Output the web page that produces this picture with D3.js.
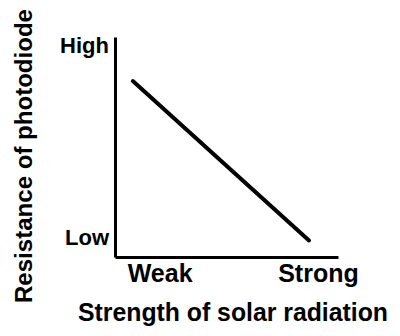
<!DOCTYPE html>
<html>
<head>
<meta charset="utf-8">
<script src="https://cdn.jsdelivr.net/npm/d3@7"></script>
<style>
  body { margin: 0; background: #fff; }
  svg text { font-family: "Liberation Sans", Arial, sans-serif; font-weight: bold; fill: #000; }
</style>
</head>
<body>
<div id="chart"></div>
<script>
// category labels on each axis and where they sit (0-10 units)
var strengthLabels = ["Weak", "Strong"];
var strengthTicks = [2.0, 9.1];
var resistanceLabels = ["Low", "High"];
var resistanceTicks = [0.9, 9.6];

// the single falling line: resistance against radiation strength
var curveStrength = [0.8, 8.7];
var curveResistance = [8.0, 0.75];

var width = 400, height = 336;
var margin = {top: 37, right: 62, bottom: 79, left: 115};

var svg = d3.select("#chart").append("svg")
  .attr("width", width)
  .attr("height", height);

var x = d3.scaleLinear()
  .domain([0, 10])
  .range([margin.left, width - margin.right]);

var y = d3.scaleLinear()
  .domain([0, 10])
  .range([height - margin.bottom, margin.top]);

// x axis
var xAxis = svg.append("g")
  .attr("transform", "translate(0," + y(0) + ")")
  .call(d3.axisBottom(x)
    .tickValues(strengthTicks)
    .tickFormat(function(d, i) { return strengthLabels[i]; })
    .tickSize(0)
    .tickSizeOuter(0)
    .tickPadding(7));
xAxis.select(".domain").attr("stroke", "#000").attr("stroke-width", 3);
xAxis.selectAll("text").attr("font-size", 25).style("font-family", null);

// y axis
var yAxis = svg.append("g")
  .attr("transform", "translate(" + x(0) + ",0)")
  .call(d3.axisLeft(y)
    .tickValues(resistanceTicks)
    .tickFormat(function(d, i) { return resistanceLabels[i]; })
    .tickSize(0)
    .tickSizeOuter(0)
    .tickPadding(6));
yAxis.select(".domain").attr("stroke", "#000").attr("stroke-width", 3);
yAxis.selectAll("text").attr("font-size", 22).style("font-family", null);

// the line
var pts = curveStrength.map(function(s, i) { return [s, curveResistance[i]]; });
svg.append("path")
  .datum(pts)
  .attr("fill", "none")
  .attr("stroke", "#000")
  .attr("stroke-width", 4)
  .attr("stroke-linecap", "round")
  .attr("d", d3.line()
    .x(function(d) { return x(d[0]); })
    .y(function(d) { return y(d[1]); }));

// axis titles
svg.append("text")
  .attr("x", 233)
  .attr("y", 321)
  .attr("text-anchor", "middle")
  .attr("font-size", 25)
  .attr("textLength", 310)
  .attr("lengthAdjust", "spacingAndGlyphs")
  .text("Strength of solar radiation");

svg.append("text")
  .attr("transform", "translate(32,156) rotate(-90)")
  .attr("text-anchor", "middle")
  .attr("font-size", 24)
  .attr("textLength", 294)
  .attr("lengthAdjust", "spacingAndGlyphs")
  .text("Resistance of photodiode");
</script>
</body>
</html>
